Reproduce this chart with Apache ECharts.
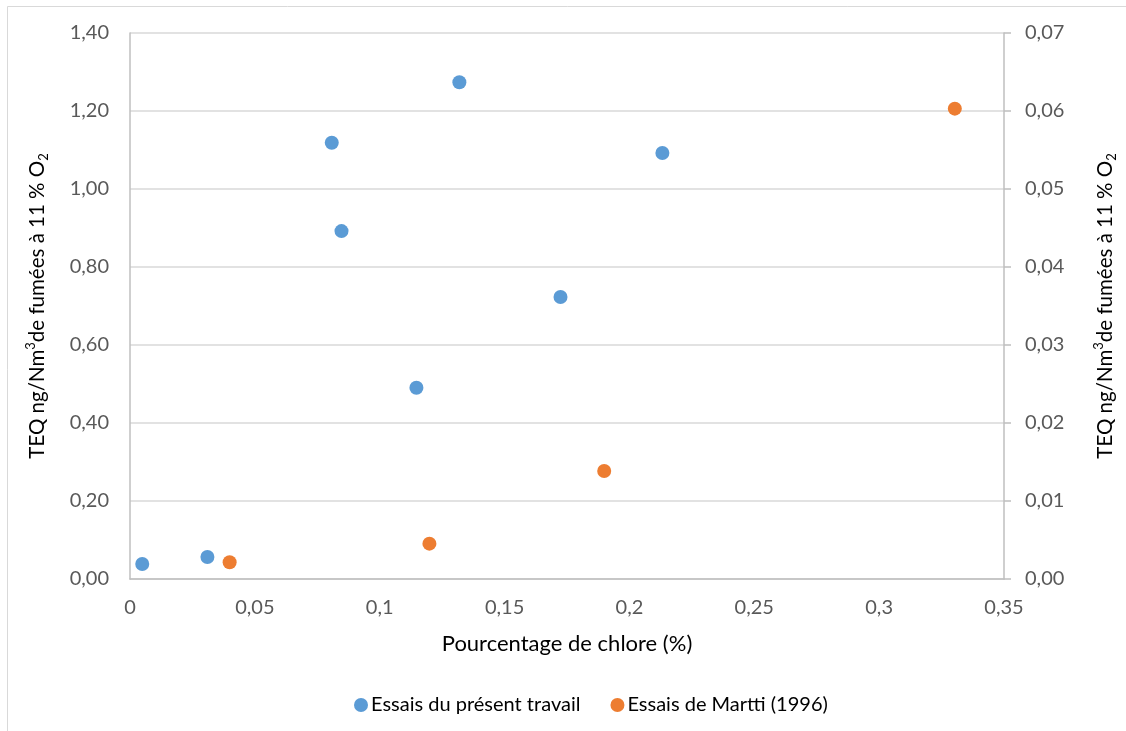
<!DOCTYPE html>
<html>
<head>
<meta charset="utf-8">
<script src="https://cdn.jsdelivr.net/npm/echarts@6/dist/echarts.min.js"></script>
<style>
html,body{margin:0;padding:0;background:#fff;}
#chart{width:1126px;height:731px;}
</style>
</head>
<body>
<div id="chart"></div>
<script>
// Data (x = % chlore, y = TEQ)
const presentX = [0.0049, 0.031, 0.0808, 0.0847, 0.1147, 0.1319, 0.1724, 0.2132];
const presentY = [0.0385, 0.0564, 1.1187, 0.892, 0.4905, 1.2736, 0.723, 1.0923];
const marttiX = [0.0399, 0.1199, 0.1899, 0.3303];
const marttiY = [0.00214, 0.00453, 0.01385, 0.0603];
const seriesNames = ['Essais du présent travail', 'Essais de Martti (1996)'];
const xTicks = {min: 0, max: 0.35, interval: 0.05};
const yLeftTicks = {min: 0, max: 1.4, interval: 0.2};
const yRightTicks = {min: 0, max: 0.07, interval: 0.01};

const FONT = 'Lato';
const TXT = '#595959';
const GRID = '#d9d9d9';
const AXIS = '#bfbfbf';
const FS = 20;

function fr(v, d) { return v.toFixed(d).replace('.', ','); }
function frX(v) { return v === 0 ? '0' : String(parseFloat(v.toFixed(2))).replace('.', ','); }

const yName = '{a|TEQ ng/Nm}{s|3}{a|de fumées à 11 % O}{b|2}';
const yNameRich = {
  a: {fontSize: 20.5, fontFamily: FONT, color: '#000', lineHeight: 26, verticalAlign: 'middle'},
  s: {fontSize: 13, fontFamily: FONT, color: '#000', lineHeight: 26, verticalAlign: 'top', padding: [0,0,8,0]},
  b: {fontSize: 13, fontFamily: FONT, color: '#000', lineHeight: 26, verticalAlign: 'bottom', padding: [8,0,0,0]}
};

const chart = echarts.init(document.getElementById('chart'), null, {renderer: 'canvas'});
chart.setOption({
  backgroundColor: '#fff',
  animation: false,
  textStyle: {fontFamily: FONT},
  graphic: [{
    type: 'rect', shape: {x: 7.5, y: 6.5, width: 1140, height: 760},
    style: {fill: 'none', stroke: '#d9d9d9', lineWidth: 1}, silent: true
  }],
  grid: {left: 130, right: 118, top: 33, bottom: 152, containLabel: false},
  legend: {
    left: 349, top: 690,
    icon: 'circle', itemWidth: 14, itemHeight: 14, itemGap: 30,
    textStyle: {fontSize: FS, color: '#000', fontFamily: FONT, padding: [0,0,0,-2]},
    data: seriesNames
  },
  xAxis: {
    type: 'value', min: xTicks.min, max: xTicks.max, interval: xTicks.interval,
    name: 'Pourcentage de chlore (%)', nameLocation: 'middle', nameGap: 54,
    nameTextStyle: {fontSize: 22, color: '#000', fontFamily: FONT},
    axisLine: {show: true, onZero: false, lineStyle: {color: AXIS, width: 1.5}},
    axisTick: {show: false},
    splitLine: {show: false},
    axisLabel: {fontSize: FS, color: TXT, fontFamily: FONT, margin: 19, formatter: frX}
  },
  yAxis: [{
    type: 'value', position: 'left', min: yLeftTicks.min, max: yLeftTicks.max, interval: yLeftTicks.interval,
    name: yName, nameLocation: 'middle', nameGap: 80, nameRotate: 90,
    nameTextStyle: {rich: yNameRich},
    axisLine: {show: true, lineStyle: {color: AXIS, width: 1.5}},
    axisTick: {show: false},
    splitLine: {show: true, lineStyle: {color: GRID, width: 1.5}},
    axisLabel: {fontSize: FS, color: TXT, fontFamily: FONT, margin: 21, formatter: v => fr(v, 2)}
  }, {
    type: 'value', position: 'right', min: yRightTicks.min, max: yRightTicks.max, interval: yRightTicks.interval,
    name: yName, nameLocation: 'middle', nameGap: 88, nameRotate: 90,
    nameTextStyle: {rich: yNameRich},
    axisLine: {show: true, lineStyle: {color: AXIS, width: 1.5}},
    axisTick: {show: true, length: 7, inside: false, lineStyle: {color: AXIS, width: 1.5}},
    splitLine: {show: false},
    axisLabel: {fontSize: FS, color: TXT, fontFamily: FONT, margin: 21, formatter: v => fr(v, 2)}
  }],
  series: [{
    name: seriesNames[0], type: 'scatter', yAxisIndex: 0,
    symbol: 'circle', symbolSize: 14,
    itemStyle: {color: '#5B9BD5', opacity: 1},
    data: presentX.map((x, i) => [x, presentY[i]])
  }, {
    name: seriesNames[1], type: 'scatter', yAxisIndex: 1,
    symbol: 'circle', symbolSize: 14,
    itemStyle: {color: '#ED7D31', opacity: 1},
    data: marttiX.map((x, i) => [x, marttiY[i]])
  }]
});
</script>
</body>
</html>
